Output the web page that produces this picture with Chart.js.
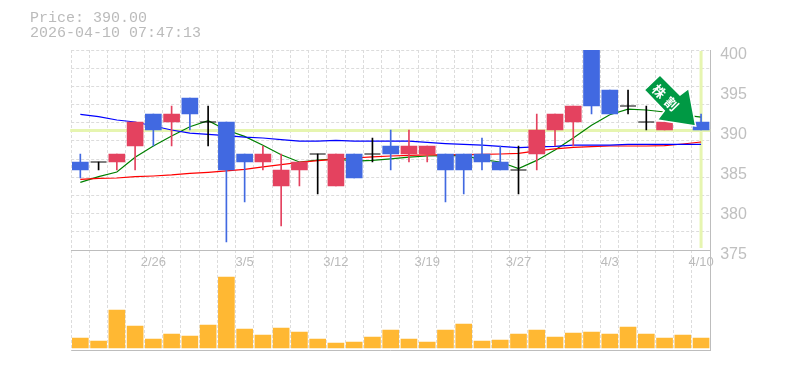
<!DOCTYPE html>
<html>
<head>
<meta charset="utf-8">
<style>
html,body{margin:0;padding:0;background:#fff;width:785px;height:370px;overflow:hidden}
#wrap{position:relative;width:785px;height:370px}
#head{position:absolute;left:30px;top:11px;font:15px/15px "Liberation Mono",monospace;color:#bbb;white-space:pre}
#arrow{position:absolute;left:0;top:0}
canvas{display:block}
</style>
<script src="https://cdn.jsdelivr.net/npm/chart.js@4"></script>
</head>
<body>
<div id="wrap">
<canvas id="c" width="785" height="370"></canvas>
<div id="head">Price: 390.00
2026-04-10 07:47:13</div>
<svg id="arrow" width="785" height="370">
<polygon points="660,75 644.3,90 664.3,110.7 657.3,120 695.7,126 688.7,88.3 680,95" fill="#009944" stroke="#fff" stroke-width="1.5"/>
<text transform="translate(659.5,91) rotate(45)" text-anchor="middle" dominant-baseline="central" font-family="Noto Sans CJK JP" font-weight="700" font-size="13" fill="#fff">株</text>
<text transform="translate(672,103.5) rotate(45)" text-anchor="middle" dominant-baseline="central" font-family="Noto Sans CJK JP" font-weight="700" font-size="13" fill="#fff">割</text>
</svg>
</div>
<script>
const dateLabels = ['','','','','2/26','','','','','3/5','','','','','3/12','','','','','3/19','','','','','3/27','','','','','4/3','','','','','4/10'];
const opens  = [385,386,387,391,390,392,392,391,385,386,387,385,386,387,387,384,387,387,388,388,385,385,386,385,385,390,392,393,393,392,393,391,391,392,390];
const closes = [386,386,386,388,392,391,394,391,391,387,386,383,385,387,383,387,387,388,387,387,387,387,387,386,385,387,390,391,402,395,393,391,390,392,391];
const highs  = [387,386,387,391,392,393,394,393,391,387,388,387,386,387,387,387,389,390,390,388,387,387,389,388,388,392,392,393,402,395,395,393,392,393,392];
const lows   = [384,385,385,385,388,388,390,388,376,381,385,378,383,382,383,384,386,385,386,386,381,382,385,385,382,385,388,388,392,392,392,390,390,391,390];
const maShort = [383.46,384.17,384.75,386.6,388,389.25,390.4,391.17,390,389.2,388.1,386.9,386,386.25,386.4,386.1,386.2,386.4,386.6,386.75,386.8,386.8,386.3,386,385.17,386.2,387.5,389,390.6,391.9,392.6,392.5,392.25,391.9,391.6];
const maMid = [383.83,383.96,384,384.17,384.25,384.38,384.58,384.71,384.88,385.08,385.38,385.67,385.96,386.17,386.33,386.5,386.63,386.75,386.83,386.88,386.88,386.92,386.96,387,387.08,387.38,387.63,387.83,387.92,388,388,388,388.04,388.25,388.5];
const maLong = [391.96,391.67,391.25,391,390.5,390,389.6,389.45,389.3,389.1,389,388.8,388.6,388.6,388.7,388.6,388.6,388.6,388.6,388.45,388.3,388.2,388.1,387.96,387.8,387.9,387.96,388.1,388.1,388.1,388.2,388.2,388.2,388.2,388.2];
const volumes = [10,7,38,22,9,14,12,23,71,19,13,20,16,9,5,6,11,18,9,6,18,24,7,8,14,18,11,15,16,14,21,14,10,13,10];
const currentPrice = 390;
const priceTicks = [375,380,385,390,395,400];

const BLUE='#4169e1', RED='#e4425f', BLACK='#000', GRID='#dcdcdc', AXIS='#bdbdbd', TEXT='#bbb', HL='#e6f5b0';
const col = i => closes[i] > opens[i] ? BLUE : closes[i] < opens[i] ? RED : BLACK;
const idx = closes.map((_, i) => i);

const highlight = {
  id: 'highlight',
  beforeDatasetsDraw(chart) {
    const {ctx, chartArea: a, scales: {x, y}} = chart;
    const py = y.getPixelForValue(currentPrice) + 0.5;
    const px = x.getPixelForValue(closes.length - 1);
    ctx.save();
    ctx.strokeStyle = HL;
    ctx.lineWidth = 3;
    ctx.beginPath();
    ctx.moveTo(a.left - 1, py); ctx.lineTo(a.right, py);
    ctx.moveTo(px, y.top + 1); ctx.lineTo(px, y.bottom - 2);
    ctx.stroke();
    ctx.restore();
  }
};

const fixedWidth = s => { s.width = 74.8; };
const maLine = (data, color) => ({type:'line', data, yAxisID:'y', borderColor:color, borderWidth:1.2, pointRadius:0, tension:0, order:5, fill:false});

new Chart(document.getElementById('c'), {
  type: 'bar',
  plugins: [highlight],
  data: {
    labels: dateLabels,
    datasets: [
      maLine(maLong, '#0000ff'),
      maLine(maMid, '#ff0000'),
      maLine(maShort, '#008000'),
      {data: idx.map(i => [lows[i], highs[i]]), yAxisID:'y', backgroundColor: idx.map(col), barThickness:1, grouped:false, order:3},
      {data: idx.map(i => opens[i] === closes[i] ? null : [opens[i], closes[i]]), yAxisID:'y', backgroundColor: idx.map(col), barThickness:16, grouped:false, order:2},
      {type:'line', data: idx.map(i => opens[i] === closes[i] ? closes[i] : null), yAxisID:'y', showLine:false, pointStyle:'line', pointRadius:8, pointBorderColor:BLACK, pointBorderWidth:1, order:1},
      {data: volumes, yAxisID:'vol', backgroundColor:'#ffb833', barThickness:16, grouped:false, order:4}
    ]
  },
  options: {
    responsive:false, animation:false, events:[],
    layout:{padding:{left:71.2, top:50, bottom:20, right:0}},
    plugins:{legend:{display:false}, tooltip:{enabled:false}, title:{display:false}},
    scales:{
      x:{
        type:'category', offset:true, position:{y:375},
        grid:{color:GRID, lineWidth:1, offset:true, drawTicks:false},
        border:{color:AXIS, width:1, dash:[3,2]},
        ticks:{autoSkip:false, maxRotation:0, minRotation:0, padding:5, color:TEXT, font:{family:'"Liberation Sans"', size:13}}
      },
      y:{
        type:'linear', position:'right', stack:'p', stackWeight:2, min:375, max:400,
        afterFit: fixedWidth,
        afterBuildTicks(s){
          const t = priceTicks.map(v => ({value:v}));
          for (let i=1;i<11;i++) t.push({value:375+i*25/11});
          s.ticks = t.sort((a,b)=>a.value-b.value);
        },
        grid:{drawTicks:false, lineWidth:1, color:c => (priceTicks.includes(c.tick.value) && c.tick.value!==400) ? 'rgba(0,0,0,0)' : GRID},
        border:{color:AXIS, width:1, dash:[3,2]},
        ticks:{autoSkip:false, padding:10, color:'#c0c0c0', font:{family:'"Liberation Sans"', size:16, lineHeight:0.625},
          callback:v => priceTicks.includes(v) ? ['', String(v)] : ''}
      },
      vol:{
        type:'linear', position:'right', stack:'p', stackWeight:1, min:-2, max:98,
        afterFit: fixedWidth,
        afterBuildTicks(s){ s.ticks=[{value:-2}]; },
        grid:{drawTicks:false, color:AXIS, lineWidth:1},
        border:{color:AXIS, width:1},
        ticks:{callback:()=>''}
      }
    }
  }
});
</script>
</body>
</html>
